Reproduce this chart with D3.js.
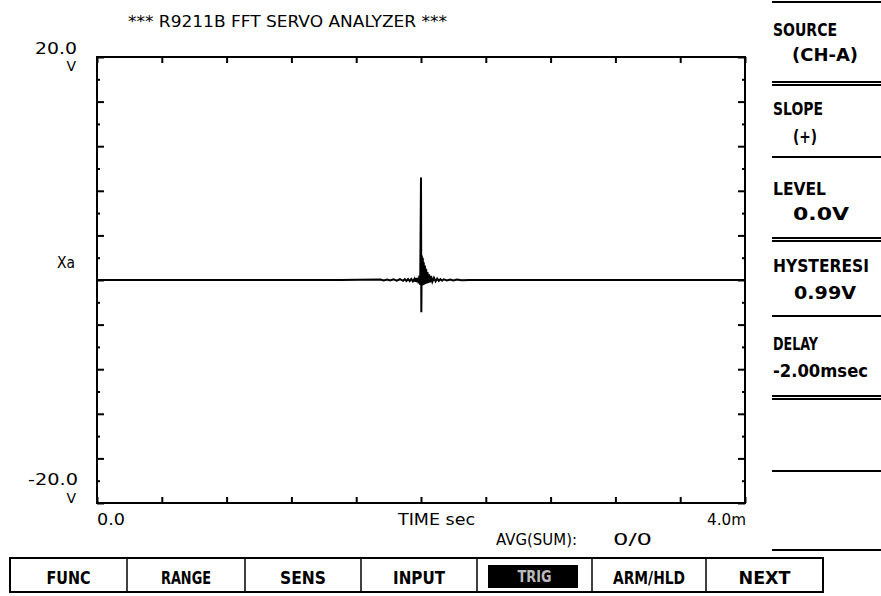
<!DOCTYPE html>
<html>
<head>
<meta charset="utf-8">
<script src="https://cdn.jsdelivr.net/npm/d3@7"></script>
<style>
  body { margin: 0; background: #fff; }
  svg { display: block; }
  text { fill: #000; }
</style>
</head>
<body>
<svg width="881" height="596"></svg>
<script>
// trace, time in msec, voltage in V
const traceTime = [0, 0.5, 1.0, 1.5, 1.75, 1.77, 1.79, 1.81, 1.83, 1.85, 1.87, 1.89, 1.90, 1.91, 1.92, 1.93, 1.94, 1.95, 1.96, 1.965, 1.97, 1.975, 1.98, 1.985, 1.99, 1.995,
    2.000, 2.002, 2.005, 2.008, 2.011, 2.014, 2.017, 2.020, 2.024, 2.028, 2.032, 2.036, 2.040, 2.045, 2.050, 2.056, 2.062,
    2.07, 2.08, 2.09, 2.10, 2.11, 2.12, 2.13, 2.14, 2.16, 2.18, 2.20, 2.22, 2.25, 2.30, 3.0, 4.0]
const traceVolt = [0, 0, 0, 0, 0.04, -0.04, 0.05, -0.05, 0.06, -0.06, 0.07, -0.07, 0.08, -0.08, 0.09, -0.1, 0.1, -0.12, 0.12, -0.15, 0.15, -0.18, 0.2, -0.3, 0.4, -0.45,
    9.2, -2.9, 2.2, -0.5, 2.0, -0.45, 1.6, -0.4, 1.3, -0.35, 1.0, -0.3, 0.7, -0.25, 0.5, -0.2, 0.35,
    -0.15, 0.2, -0.12, 0.12, -0.08, 0.08, -0.06, 0.06, -0.05, 0.05, -0.04, 0.04, -0.03, 0, 0, 0]

const xDomain = [0, 4.0]
const yDomain = [-20, 20]
const xTicks = [0, 0.4, 0.8, 1.2, 1.6, 2.0, 2.4, 2.8, 3.2, 3.6, 4.0]
const yTicks = [-20, -16, -12, -8, -4, 0, 4, 8, 12, 16, 20]
const yMinorTicks = [-18, -14, -10, -6, -2, 2, 6, 10, 14, 18]

const title = '*** R9211B FFT SERVO ANALYZER ***'
const softKeys = ['FUNC', 'RANGE', 'SENS', 'INPUT', 'TRIG', 'ARM/HLD', 'NEXT']
const activeKey = 'TRIG'
const sidePanel = [
    {name: 'SOURCE', value: '(CH-A)'},
    {name: 'SLOPE', value: '(+)'},
    {name: 'LEVEL', value: '0.0V'},
    {name: 'HYSTERESI', value: '0.99V'},
    {name: 'DELAY', value: '-2.00msec'}
]

const svg = d3.select('svg')
const thin = 'DejaVu Sans, sans-serif'
const bold = 'DejaVu Sans, sans-serif'

const plot = {left: 97, right: 745, top: 57, bottom: 503}
const x = d3.scaleLinear().domain(xDomain).range([plot.left, plot.right])
const y = d3.scaleLinear().domain(yDomain).range([plot.bottom, plot.top])

function label(g, txt, px, py, opt) {
    let t = g.append('text')
        .attr('x', px)
        .attr('y', py)
        .attr('font-family', opt.bold ? bold : thin)
        .attr('font-weight', opt.bold ? 'bold' : 'normal')
        .attr('font-size', opt.size || 15)
        .attr('text-anchor', opt.anchor || 'start')
        .text(txt)
    if (opt.w) t.attr('textLength', opt.w).attr('lengthAdjust', 'spacingAndGlyphs')
    if (opt.fill) t.style('fill', opt.fill)
    return t
}

// title
label(svg, title, 128, 27, {size: 16, w: 319})

// axes with inward ticks
const gx = svg.append('g')
gx.append('g')
    .attr('transform', `translate(0,${plot.top})`)
    .call(d3.axisTop(x).tickValues(xTicks).tickSize(-6).tickFormat(''))
gx.append('g')
    .attr('transform', `translate(0,${plot.bottom})`)
    .call(d3.axisBottom(x).tickValues(xTicks).tickSize(-6).tickFormat(''))
gx.append('g')
    .attr('transform', `translate(${plot.left},0)`)
    .call(d3.axisLeft(y).tickValues(yTicks).tickSize(-7).tickFormat(''))
gx.append('g')
    .attr('transform', `translate(${plot.right},0)`)
    .call(d3.axisRight(y).tickValues(yTicks).tickSize(-7).tickFormat(''))
gx.append('g')
    .attr('transform', `translate(${plot.left},0)`)
    .call(d3.axisLeft(y).tickValues(yMinorTicks).tickSize(-3).tickFormat(''))
gx.append('g')
    .attr('transform', `translate(${plot.right},0)`)
    .call(d3.axisRight(y).tickValues(yMinorTicks).tickSize(-3).tickFormat(''))
gx.selectAll('.domain').remove()
gx.selectAll('.tick line').attr('stroke', '#000').attr('stroke-width', 2)

svg.append('rect')
    .attr('x', plot.left)
    .attr('y', plot.top)
    .attr('width', plot.right - plot.left)
    .attr('height', plot.bottom - plot.top)
    .attr('fill', 'none')
    .attr('stroke', '#000')
    .attr('stroke-width', 2)

// trace
const pts = traceTime.map((t, i) => [t, traceVolt[i]])
svg.append('path')
    .datum(pts)
    .attr('fill', 'none')
    .attr('stroke', '#000')
    .attr('stroke-width', 2)
    .attr('d', d3.line().x(d => x(d[0])).y(d => y(d[1])))

// axis labels
label(svg, y.domain()[1].toFixed(1), 77, 54, {size: 15, anchor: 'end', w: 42})
label(svg, 'V', 76, 71, {size: 14, anchor: 'end'})
label(svg, y.domain()[0].toFixed(1), 78, 485, {size: 15, anchor: 'end', w: 50})
label(svg, 'V', 76, 503, {size: 14, anchor: 'end'})
label(svg, 'Xa', 57, 268, {size: 16, w: 18})
label(svg, x.domain()[0].toFixed(1), 97, 525, {size: 16, w: 28})
label(svg, 'TIME sec', 398, 525, {size: 16, w: 77})
label(svg, x.domain()[1].toFixed(1) + 'm', 746, 525, {size: 16, anchor: 'end', w: 39})
label(svg, 'AVG(SUM):', 496, 545, {size: 15, w: 81})
label(svg, '0/0', 613, 545, {size: 16, w: 39})

// right side panel
const panel = svg.append('g')
const rules = [[2], [82, 85], [157], [238, 241], [316], [396, 399], [471], [550]]
rules.forEach(r => r.forEach(ry => {
    panel.append('line')
        .attr('x1', 772).attr('x2', 881)
        .attr('y1', ry).attr('y2', ry)
        .attr('stroke', '#000').attr('stroke-width', 2)
}))
const nameY = [36, 115, 195, 272, 350]
const valueY = [61, 143, 220, 299, 377]
const nameW = [64, 50, 53, 96, 45]
const valueX = [792, 793, 793, 794, 773]
const valueW = [66, 24, 56, 62, 95]
sidePanel.forEach((d, i) => {
    label(panel, d.name, 773, nameY[i], {bold: true, size: 17, w: nameW[i]})
    label(panel, d.value, valueX[i], valueY[i], {bold: true, size: 17, w: valueW[i]})
})

// soft key bar
const keyEdges = [10, 127, 245, 361, 477, 592, 706, 823]
const keys = svg.append('g')
keys.append('rect')
    .attr('x', keyEdges[0]).attr('y', 558)
    .attr('width', keyEdges[7] - keyEdges[0]).attr('height', 34)
    .attr('fill', 'none').attr('stroke', '#000').attr('stroke-width', 2)
const keyW = [44, 50, 46, 52, 48, 72, 52]
softKeys.forEach((k, i) => {
    let cx = (keyEdges[i] + keyEdges[i + 1]) / 2
    if (i > 0) {
        keys.append('line')
            .attr('x1', keyEdges[i]).attr('x2', keyEdges[i])
            .attr('y1', 558).attr('y2', 592)
            .attr('stroke', '#000').attr('stroke-width', 1.5)
    }
    if (k === activeKey) {
        keys.append('rect')
            .attr('x', 488).attr('y', 565)
            .attr('width', 90).attr('height', 23)
            .attr('fill', '#000')
        label(keys, k, cx, 582, {bold: true, size: 15, anchor: 'middle', w: 34, fill: '#bbb'})
    } else {
        label(keys, k, cx, 584, {bold: true, size: 17, anchor: 'middle', w: keyW[i]})
    }
})
</script>
</body>
</html>
